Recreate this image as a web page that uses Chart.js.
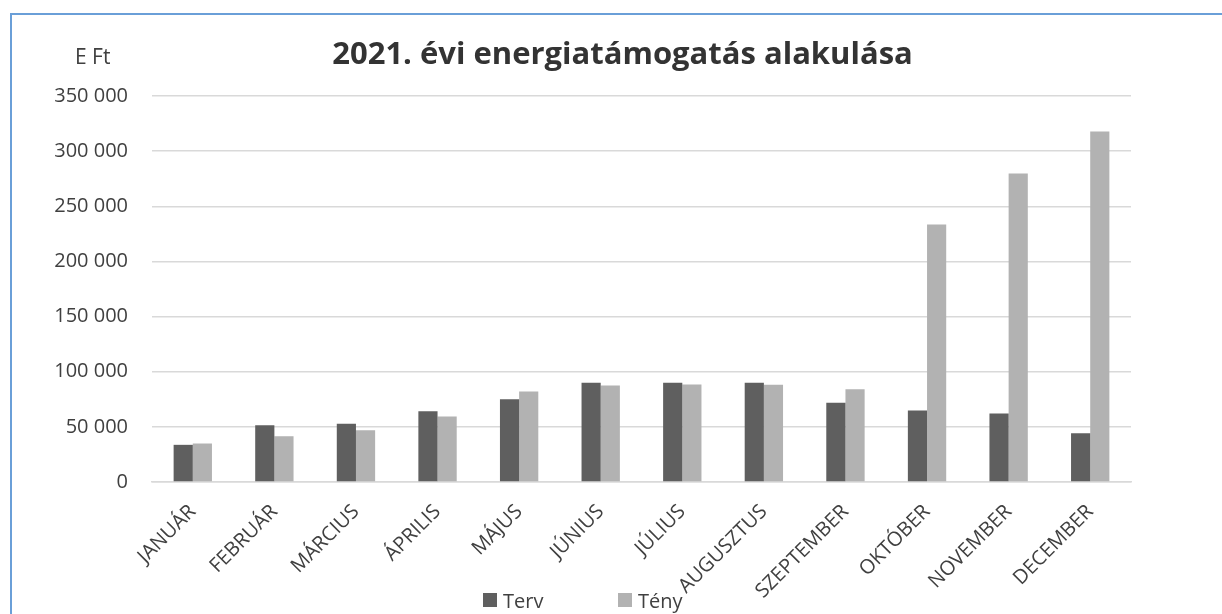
<!DOCTYPE html>
<html lang="hu">
<head>
<meta charset="utf-8">
<title>2021. évi energiatámogatás alakulása</title>
<script src="https://cdn.jsdelivr.net/npm/chart.js@4.4.0/dist/chart.umd.min.js"></script>
<style>
    html, body { margin: 0; padding: 0; background: #fff; overflow: hidden; }
    #wrap { position: relative; width: 1222px; height: 614px; }
    #frame {
        position: absolute; left: 10px; top: 13px; width: 1240px; height: 640px;
        border-left: 2px solid #6a9fd8; border-top: 2px solid #6a9fd8;
        pointer-events: none;
    }
    #chartTitle {
        position: absolute; left: 0; top: 34px; width: 1245px; line-height: 36px;
        text-align: center; white-space: nowrap;
        font-family: "Open Sans", sans-serif; font-size: 31px; font-weight: bold; color: #333333;
    }
    #unit {
        position: absolute; left: 75px; top: 42px;
        font-family: "Open Sans", sans-serif; font-size: 21px; color: #404040;
    }
    #legend {
        position: absolute; top: 588px; left: 0; width: 1222px; height: 24px;
        font-family: "Open Sans", sans-serif; font-size: 20px; color: #404040;
    }
    #legend div { position: absolute; top: 0; height: 24px; display: flex; align-items: center; }
    #legend span { width: 14px; height: 14px; display: inline-block; margin-right: 6px; }
</style>
</head>
<body>
<div id="wrap">
    <canvas id="energyChart" width="1222" height="614"></canvas>
    <div id="frame"></div>
    <div id="chartTitle">2021. évi energiatámogatás alakulása</div>
    <div id="unit">E Ft</div>
    <div id="legend"></div>
</div>
<script>
// Chart data (values in E Ft)
var months = ['JANUÁR', 'FEBRUÁR', 'MÁRCIUS', 'ÁPRILIS', 'MÁJUS', 'JÚNIUS',
    'JÚLIUS', 'AUGUSZTUS', 'SZEPTEMBER', 'OKTÓBER', 'NOVEMBER', 'DECEMBER'];
var tervValues = [33700, 51500, 52800, 64200, 75100, 89900, 89900, 89900, 71800, 64800, 62100, 44200];
var tenyValues = [34900, 41500, 47000, 59400, 82000, 87500, 88400, 88100, 84100, 233500, 279700, 317800];
var yTicks = [0, 50000, 100000, 150000, 200000, 250000, 300000, 350000];

var seriesNames = ['Terv', 'Tény'];
var colors = ['#5f5f5f', '#b2b2b2'];

document.addEventListener("DOMContentLoaded", function () {
    var ctx = document.getElementById('energyChart').getContext('2d');

    // 350000 -> "350 000"
    function formatNumber(value) {
        return value.toString().replace(/\B(?=(\d{3})+(?!\d))/g, ' ');
    }

    new Chart(ctx, {
        type: 'bar',
        data: {
            labels: months,
            datasets: [{
                label: seriesNames[0],
                data: tervValues,
                backgroundColor: colors[0],
                borderWidth: 0,
                categoryPercentage: 0.47,
                barPercentage: 1
            }, {
                label: seriesNames[1],
                data: tenyValues,
                backgroundColor: colors[1],
                borderWidth: 0,
                categoryPercentage: 0.47,
                barPercentage: 1
            }]
        },
        options: {
            responsive: false,
            animation: false,
            layout: {
                padding: { top: 96, right: 91, bottom: 0, left: 0 }
            },
            plugins: {
                legend: { display: false }, // custom legend below
                tooltip: { enabled: false },
                title: { display: false }   // title is an html overlay (centred like the original)
            },
            scales: {
                x: {
                    grid: { display: false },
                    border: { color: '#d9d9d9', width: 1.5 },
                    ticks: {
                        color: '#404040',
                        font: { family: 'Open Sans', size: 20 },
                        maxRotation: 45,
                        minRotation: 45,
                        padding: 10
                    },
                    afterFit: function (scale) {
                        scale.height = 132;
                    }
                },
                y: {
                    min: 0,
                    max: 350000,
                    afterBuildTicks: function (scale) {
                        scale.ticks = yTicks.map(v => ({ value: v }));
                    },
                    grid: { color: '#d9d9d9', lineWidth: 1.5, drawTicks: false },
                    border: { display: false },
                    ticks: {
                        color: '#404040',
                        font: { family: 'Open Sans', size: 20 },
                        padding: 24,
                        callback: function (value) {
                            return formatNumber(value);
                        }
                    },
                    afterFit: function (scale) {
                        scale.width = 152;
                    }
                }
            }
        }
    });

    // Custom legend (positioned like the original)
    var legendContainer = document.getElementById("legend");
    var legendLeft = [483, 618];
    seriesNames.forEach((name, index) => {
        var legendItem = document.createElement("div");
        legendItem.style.left = legendLeft[index] + "px";
        legendItem.innerHTML = `<span style="background-color: ${colors[index]};"></span>${name}`;
        legendContainer.appendChild(legendItem);
    });
});
</script>
</body>
</html>
